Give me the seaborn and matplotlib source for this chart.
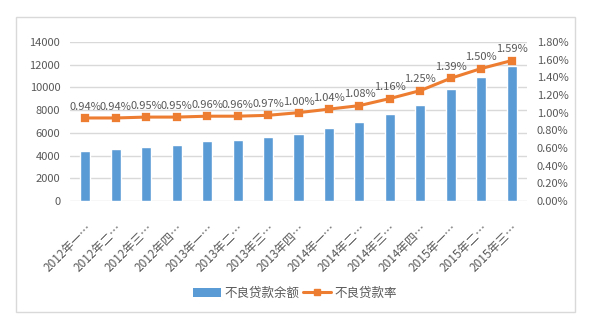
import matplotlib
matplotlib.use("Agg")
import matplotlib.pyplot as plt
from matplotlib.patches import Rectangle
from matplotlib.lines import Line2D
from matplotlib.ticker import FuncFormatter
import seaborn as sns
import pandas as pd

# Quarterly non-performing loans (亿元) and NPL ratio (%)
quarters = ["2012年一…", "2012年二…", "2012年三…", "2012年四…",
            "2013年一…", "2013年二…", "2013年三…", "2013年四…",
            "2014年一…", "2014年二…", "2014年三…", "2014年四…",
            "2015年一…", "2015年二…", "2015年三…"]
npl_balance = [4382, 4564, 4750, 4929, 5265, 5395, 5636, 5921,
               6461, 6944, 7669, 8426, 9825, 10919, 11863]
npl_ratio = [0.94, 0.94, 0.95, 0.95, 0.96, 0.96, 0.97, 1.00,
             1.04, 1.08, 1.16, 1.25, 1.39, 1.50, 1.59]

bar_name = "不良贷款余额"
line_name = "不良贷款率"

sns.set_theme(style="white")
plt.rcParams["font.family"] = ["Noto Sans CJK SC", "DejaVu Sans"]

BLUE = "#5b9bd5"
ORANGE = "#ed7d31"
TEXT = "#595959"
GRID = "#d9d9d9"

df = pd.DataFrame({"quarter": quarters, "balance": npl_balance, "ratio": npl_ratio})

fig = plt.figure(figsize=(5.97, 3.22), dpi=100)
ax = fig.add_axes([70 / 597, 1 - 201 / 322, (527 - 70) / 597, (201 - 42) / 322])

sns.barplot(data=df, x="quarter", y="balance", color=BLUE, width=0.33,
            saturation=1, ax=ax)
ax.set_ylim(0, 14000)
ax.set_yticks(range(0, 14001, 2000))
ax.yaxis.grid(True, color=GRID, linewidth=1)
ax.set_axisbelow(True)
ax.set_xlabel("")
ax.set_ylabel("")
for s in ax.spines.values():
    s.set_visible(False)
ax.tick_params(axis="y", length=0, labelsize=8, labelcolor=TEXT, pad=7)
ax.tick_params(axis="x", length=0, labelsize=8.5, labelcolor=TEXT, pad=15)
for lbl in ax.get_xticklabels():
    lbl.set_rotation(45)
    lbl.set_ha("right")
    lbl.set_rotation_mode("anchor")

ax2 = ax.twinx()
sns.pointplot(data=df, x="quarter", y="ratio", color=ORANGE, markers="s",
              linestyles="-", markersize=5, linewidth=2.2, ax=ax2)
ax2.set_ylim(0, 1.8)
ax2.set_yticks([i * 0.2 for i in range(10)])
ax2.yaxis.set_major_formatter(FuncFormatter(lambda v, p: f"{v:.2f}%"))
ax2.set_ylabel("")
ax2.set_xlabel("")
for s in ax2.spines.values():
    s.set_visible(False)
ax2.tick_params(axis="y", length=0, labelsize=8, labelcolor=TEXT, pad=7)
ax2.set_xlim(ax.get_xlim())

for i, r in enumerate(npl_ratio):
    ax2.annotate(f"{r:.2f}%", (i, r), xytext=(0, 8), textcoords="offset points",
                 ha="center", va="center", fontsize=8, color=TEXT)

handles = [Rectangle((0, 0), 1, 1, facecolor=BLUE, edgecolor="none"),
           Line2D([0], [0], color=ORANGE, linewidth=2.2, marker="s", markersize=5)]
fig.legend(handles, [bar_name, line_name], loc="center",
           bbox_to_anchor=(295 / 597, 1 - 293 / 322), ncol=2, frameon=False,
           fontsize=9, labelcolor=TEXT, handlelength=2.2, handletextpad=0.3,
           columnspacing=0.3)

fig.patches.append(Rectangle((16 / 597, 1 - 312 / 322), (575 - 16) / 597,
                             (312 - 17) / 322, transform=fig.transFigure,
                             fill=False, edgecolor=GRID, linewidth=1))

fig.savefig("out.png", dpi=100, facecolor="white")
